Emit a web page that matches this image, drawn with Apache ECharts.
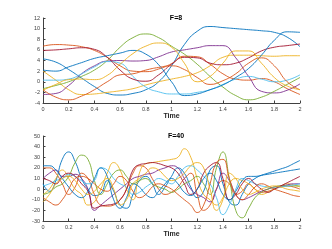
<!DOCTYPE html>
<html><head><meta charset="utf-8">
<script src="https://cdn.jsdelivr.net/npm/echarts@6/dist/echarts.min.js"></script>
<style>html,body{margin:0;padding:0;background:#fff}#c{width:332px;height:249px}</style>
</head><body><div id="c"></div>
<script>
// F=8 : t = 0..2 step 0.1
const t8 = [0,0.1,0.2,0.3,0.4,0.5,0.6,0.7,0.8,0.9,1.0,1.1,1.2,1.3,1.4,1.5,1.6,1.7,1.8,1.9,2.0];
const f8_blueA   = [4.3,3.7,2.3,0.7,-0.9,-2.2,-2.5,-2.2,-1.5,0.0,3.0,7.0,9.5,10.4,10.2,10.0,9.8,9.6,9.3,8.4,6.6];
const f8_orangeA = [6.7,7.0,6.9,6.6,5.9,4.6,3.0,2.0,1.9,2.4,3.4,4.8,4.7,3.3,1.5,0.5,0.3,0.6,0.0,-1.3,-2.4];
const f8_yellowA = [2.0,0.3,-1.5,-2.4,-2.3,-2.0,-1.7,-1.3,-0.6,0.0,0.5,1.0,1.7,3.0,4.6,5.0,5.0,4.9,4.8,4.9,4.9];
const f8_purple  = [-2.4,-2.2,-0.7,1.5,3.0,3.9,4.0,3.9,4.0,4.7,5.6,6.0,6.4,6.8,6.8,4.5,1.0,-1.8,-2.1,-1.6,-0.4];
const f8_green   = [-1.3,-0.7,0.0,1.0,2.2,4.0,6.5,8.3,9.0,8.3,6.7,5.2,3.3,1.0,-1.0,-2.6,-3.4,-2.9,-1.8,-0.5,0.8];
const f8_lblue   = [0.3,0.3,0.5,1.5,2.8,3.8,3.5,1.0,-1.0,-1.9,-2.3,-2.3,-2.0,-1.5,-0.5,0.5,1.0,0.5,0.0,0.3,1.3];
const f8_red     = [5.9,6.0,6.2,6.4,6.1,4.6,2.2,0.5,0.1,1.3,3.3,4.6,4.5,3.5,3.2,3.5,4.5,5.8,6.5,6.8,7.1];
const f8_blueB   = [2.2,2.0,2.8,3.6,4.4,4.9,5.4,5.9,5.2,3.2,0.0,-2.6,-2.3,-1.5,-0.6,0.8,2.5,5.0,7.8,9.4,9.3];
const f8_orangeB = [-1.5,-2.9,-3.4,-2.7,-1.5,0.0,1.3,1.5,2.2,2.7,3.0,2.3,0.8,-0.5,0.2,1.5,3.5,4.5,3.0,0.0,-1.5];
const f8_yellowB = [-1.6,-0.5,0.4,0.5,0.4,1.2,3.3,5.3,6.7,7.3,6.5,3.5,0.0,1.0,3.5,5.8,5.8,3.5,0.8,-0.8,-1.5];

// F=40 : t = 0..2 step 0.05
const t40 = [0,0.05,0.1,0.15,0.2,0.25,0.3,0.35,0.4,0.45,0.5,0.55,0.6,0.65,0.7,0.75,0.8,0.85,0.9,0.95,1.0,1.05,1.1,1.15,1.2,1.25,1.3,1.35,1.4,1.45,1.5,1.55,1.6,1.65,1.7,1.75,1.8,1.85,1.9,1.95,2.0];
const f40_blueA   = [5,-2,8,28,35,26,10,0,-6,-4,8,-2,-15,-18,-5,8,12,5,-5,2,12,20,15,2,-8,-2,18,22,5,-12,-15,-5,5,10,13,15,17,19,21,24,27];
const f40_orangeA = [20,20,15,5,-5,2,15,10,-5,-15,-16,-15,-10,0,15,22,20,10,0,-5,-3,2,10,15,-5,-20,-15,0,8,5,-5,-2,5,0,-3,-2,0,2,3,2,0];
const f40_yellowA = [-5,0,10,18,10,0,-5,-15,-12,0,15,25,18,0,-10,15,24,25,26,27,28,30,38,30,10,-5,-10,-15,-8,5,10,8,5,0,-5,-3,0,3,5,4,2];
const f40_purple  = [10,15,18,12,12,14,10,0,-20,-15,-10,-5,0,5,10,12,14,15,18,20,22,20,10,0,-5,-8,-12,0,15,8,-5,-10,-8,-5,-2,0,2,3,4,5,5];
const f40_green   = [-5,-3,2,5,12,25,32,28,8,-5,5,15,18,12,5,8,10,5,2,0,-3,0,5,8,12,5,-5,20,35,10,-20,-27,-18,-8,-3,0,2,3,3,3,3];
const f40_lblue   = [3,5,8,10,14,12,8,5,8,20,18,10,5,2,-5,-3,2,6,10,8,5,12,20,22,18,12,5,-8,-24,-15,0,10,8,5,3,2,1,2,3,4,5];
const f40_red     = [10,8,5,12,15,12,5,-2,-18,-16,-15,-14,-10,0,18,23,24,25,24,22,20,15,5,-5,0,15,22,25,10,-10,-5,5,10,5,0,-3,0,3,6,9,12];
const f40_blueB   = [22,22,18,10,2,-5,-8,-2,10,20,12,-10,-18,-8,5,2,-5,-8,-2,5,10,5,-3,-6,0,10,15,8,-5,-10,-2,8,12,12,13,14,15,16,17,18,19];
const f40_orangeB = [-8,-12,-15,-10,0,10,12,10,5,0,-2,5,12,8,-2,-8,-5,2,5,3,0,-5,-10,-15,-22,-15,5,25,28,10,-5,-10,-5,2,5,3,0,-2,-4,-6,-7];
const f40_yellowB = [-12,-5,5,10,12,8,0,-5,-2,5,10,0,-15,-10,5,10,15,20,18,12,8,10,15,22,25,20,0,-20,-10,15,10,0,-5,-3,0,2,3,2,0,-1,-2];

const titles = ['F=8','F=40'];
const xLabel = 'Time';

const colors = ['#0072BD','#D95319','#EDB120','#7E2F8E','#77AC30','#4DBEEE','#A2142F','#0072BD','#D95319','#EDB120'];
const set8 = [f8_blueA,f8_orangeA,f8_yellowA,f8_purple,f8_green,f8_lblue,f8_red,f8_blueB,f8_orangeB,f8_yellowB];
const set40 = [f40_blueA,f40_orangeA,f40_yellowA,f40_purple,f40_green,f40_lblue,f40_red,f40_blueB,f40_orangeB,f40_yellowB];

const axisCol = '#404040';
const fontFam = 'Liberation Sans, Arial, sans-serif';
function xAx(gi){
  return {type:'value', gridIndex:gi, min:0, max:2, interval:0.2,
    name:xLabel, nameLocation:'middle', nameGap:10,
    nameTextStyle:{fontSize:7, fontWeight:'bold', color:'#262626', fontFamily:fontFam},
    axisLine:{show:true, onZero:false, lineStyle:{color:axisCol, width:1}},
    axisTick:{show:true, inside:true, length:2.5, lineStyle:{color:axisCol}},
    axisLabel:{fontSize:5.5, color:'#404040', margin:3, fontFamily:fontFam,
      formatter:v=>String(Math.round(v*10)/10)},
    splitLine:{show:false}};
}
function yAx(gi,mn,mx,iv){
  return {type:'value', gridIndex:gi, min:mn, max:mx, interval:iv,
    axisLine:{show:true, onZero:false, lineStyle:{color:axisCol, width:1}},
    axisTick:{show:true, inside:true, length:2.5, lineStyle:{color:axisCol}},
    axisLabel:{fontSize:5.5, color:'#404040', margin:3, fontFamily:fontFam},
    splitLine:{show:false}};
}
const series = [];
set8.forEach((d,i)=>series.push({type:'line', xAxisIndex:0, yAxisIndex:0, smooth:0.5, showSymbol:false, silent:true,
  lineStyle:{width:0.9, color:colors[i]}, data:t8.map((x,k)=>[x,d[k]])}));
set40.forEach((d,i)=>series.push({type:'line', xAxisIndex:1, yAxisIndex:1, smooth:0.5, showSymbol:false, silent:true,
  lineStyle:{width:0.9, color:colors[i]}, data:t40.map((x,k)=>[x,d[k]])}));

const chart = echarts.init(document.getElementById('c'), null, {renderer:'canvas'});
chart.setOption({
  animation:false,
  title:[
    {text:titles[0], left:171, top:10, textAlign:'center', textStyle:{fontSize:7, fontWeight:'bold', color:'#000', fontFamily:fontFam}},
    {text:titles[1], left:171, top:128, textAlign:'center', textStyle:{fontSize:7, fontWeight:'bold', color:'#000', fontFamily:fontFam}}
  ],
  grid:[
    {left:43, width:257, top:18, height:85},
    {left:43, width:257, top:136, height:85}
  ],
  xAxis:[xAx(0), xAx(1)],
  yAxis:[yAx(0,-4,12,2), yAx(1,-30,50,10)],
  series: series
});
</script></body></html>
